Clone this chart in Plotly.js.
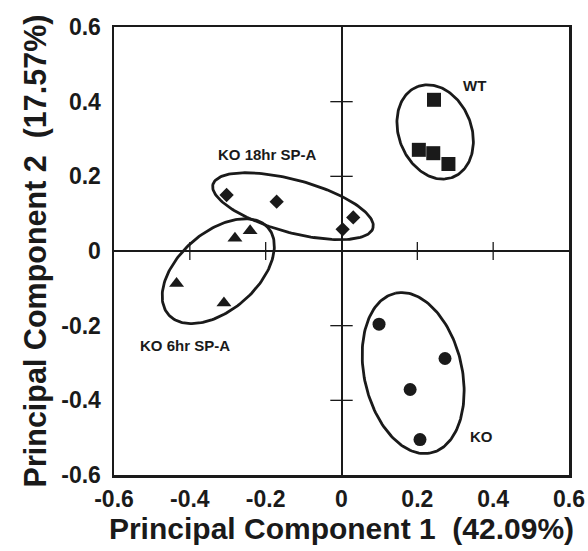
<!DOCTYPE html>
<html>
<head>
<meta charset="utf-8">
<script src="https://cdn.plot.ly/plotly-3.0.1.min.js"></script>
<style>html,body{margin:0;padding:0;background:#fff;}#chart{width:588px;height:551px;}</style>
</head>
<body>
<div id="chart"></div>
<script>
// ---- data ----
const wtX = [0.244, 0.204, 0.242, 0.282];
const wtY = [0.405, 0.271, 0.262, 0.233];
const koX = [0.099, 0.273, 0.181, 0.207];
const koY = [-0.196, -0.288, -0.371, -0.505];
const ko18X = [-0.303, -0.171, 0.031, 0.003];
const ko18Y = [0.150, 0.132, 0.090, 0.058];
const ko6X = [-0.281, -0.241, -0.435, -0.310];
const ko6Y = [0.034, 0.054, -0.087, -0.139];

// group labels
const groupNames = ['WT', 'KO', 'KO 18hr SP-A', 'KO 6hr SP-A'];
const labelX = [0.350, 0.368, -0.194, -0.412];
const labelY = [0.442, -0.496, 0.259, -0.252];

// enclosing ellipses (centre, semi-axes, rotation in degrees)
const ellCX = [0.247, 0.189, -0.128, -0.325];
const ellCY = [0.319, -0.327, 0.120, -0.054];
const ellA = [0.130, 0.219, 0.219, 0.1755];
const ellB = [0.096, 0.129, 0.0705, 0.104];
const ellAngle = [110.6, 102.4, -15.5, 41.9];

// axis ticks
const tickVals = [-0.6, -0.4, -0.2, 0, 0.2, 0.4, 0.6];
const tickText = ['-0.6', '-0.4', '-0.2', '0', '0.2', '0.4', '0.6'];
const innerTicks = [-0.4, -0.2, 0.2, 0.4];

const ink = '#1a1a1a';
const font = 'Liberation Sans, Arial, Helvetica, sans-serif';

function ellipse(i) {
  const xs = [], ys = [];
  const th = ellAngle[i] * Math.PI / 180;
  for (let k = 0; k <= 180; k++) {
    const t = k / 180 * 2 * Math.PI;
    const dx = ellA[i] * Math.cos(t), dy = ellB[i] * Math.sin(t);
    xs.push(ellCX[i] + dx * Math.cos(th) - dy * Math.sin(th));
    ys.push(ellCY[i] + dx * Math.sin(th) + dy * Math.cos(th));
  }
  return {x: xs, y: ys, mode: 'lines', line: {color: ink, width: 2.8}, hoverinfo: 'skip', showlegend: false};
}

const traces = [];
for (let i = 0; i < groupNames.length; i++) traces.push(ellipse(i));

// tick marks crossing the zero lines
traces.push({x: innerTicks, y: innerTicks.map(() => 0), mode: 'markers',
  marker: {symbol: 'line-ns-open', size: 13, color: ink, line: {color: ink, width: 1.3}}, hoverinfo: 'skip', showlegend: false});
traces.push({x: innerTicks.map(() => 0), y: innerTicks, mode: 'markers',
  marker: {symbol: 'line-ew-open', size: 16, color: ink, line: {color: ink, width: 1.3}}, hoverinfo: 'skip', showlegend: false});

traces.push({name: 'WT', x: wtX, y: wtY, mode: 'markers', marker: {symbol: 'square', size: 14, color: ink}});
traces.push({name: 'KO', x: koX, y: koY, mode: 'markers', marker: {symbol: 'circle', size: 13, color: ink}});
traces.push({name: 'KO 18hr SP-A', x: ko18X, y: ko18Y, mode: 'markers', marker: {symbol: 'diamond', size: 11, color: ink}});
traces.push({name: 'KO 6hr SP-A', x: ko6X, y: ko6Y, mode: 'markers', marker: {symbol: 'triangle-up', size: 13, color: ink}});

const annotations = groupNames.map((g, i) => ({
  x: labelX[i], y: labelY[i], xref: 'x', yref: 'y', text: '<b>' + g + '</b>',
  showarrow: false, font: {family: font, size: 15, color: ink}
}));

const axisCommon = {
  range: [-0.6, 0.6], tickmode: 'array', tickvals: tickVals, ticktext: tickText,
  showgrid: false, showline: true, mirror: true, linecolor: ink, linewidth: 2.5,
  zeroline: true, zerolinecolor: ink, zerolinewidth: 2, ticks: '',
  tickfont: {family: font, size: 23, color: ink, weight: 700}, fixedrange: true
};

const layout = {
  width: 588, height: 551,
  margin: {l: 114, r: 19, t: 27, b: 76},
  paper_bgcolor: '#fff', plot_bgcolor: '#fff',
  showlegend: false,
  font: {family: font, color: ink},
  xaxis: Object.assign({}, axisCommon, {
    title: {text: '<b>Principal Component 1  (42.09%)</b>', font: {family: font, size: 30, color: ink}, standoff: 2},
    ticklabelstandoff: 2
  }),
  yaxis: Object.assign({}, axisCommon, {
    title: {text: '<b>Principal Component 2  (17.57%)</b>', font: {family: font, size: 30.5, color: ink}, standoff: 6},
    ticklabelstandoff: 6
  }),
  annotations: annotations
};

Plotly.newPlot('chart', traces, layout, {displayModeBar: false, staticPlot: true});
</script>
</body>
</html>
